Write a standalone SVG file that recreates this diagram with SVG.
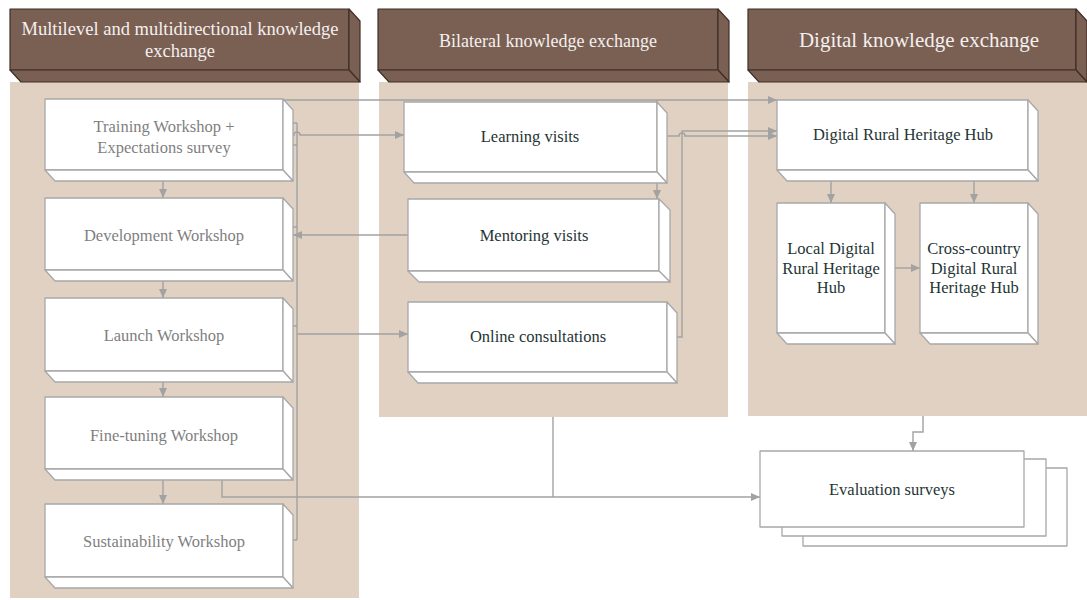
<svg xmlns="http://www.w3.org/2000/svg" width="1087" height="600" viewBox="0 0 1087 600">
<defs>
<style>
.panel{fill:#e0d1c3;stroke:none}
.hdr{fill:#7a5f53;stroke:#3e2f27;stroke-width:1.2;stroke-linejoin:round}
.hdrt{font-family:"Liberation Serif","Times New Roman",serif;fill:#f4f0ee;text-anchor:middle}
.box{fill:#ffffff;stroke:#a8a8a8;stroke-width:1.3;stroke-linejoin:round}
.tg{font-family:"Liberation Serif","Times New Roman",serif;font-size:16.5px;fill:#7f7f7f;text-anchor:middle}
.td{font-family:"Liberation Serif","Times New Roman",serif;font-size:16.5px;fill:#1f3535;text-anchor:middle}
.con{fill:none;stroke:#a2a2a2;stroke-width:1.4}
.arr{marker-end:url(#ah)}
</style>
<marker id="ah" markerWidth="9" markerHeight="8" refX="9" refY="4" orient="auto" markerUnits="userSpaceOnUse">
<path d="M0,0 L9,4 L0,8 z" fill="#a2a2a2"/>
</marker>
</defs>
<rect width="1087" height="600" fill="#ffffff"/>

<g id="panels">
<rect class="panel" x="10" y="82" width="349" height="516"/>
<rect class="panel" x="379" y="82" width="349" height="335"/>
<rect class="panel" x="748" y="82" width="339" height="334"/>
</g>

<g id="header-multilevel">
<rect class="hdr" x="10" y="9" width="339" height="61"/>
<polygon class="hdr" points="349,9 360,21 360,82 349,70"/>
<polygon class="hdr" points="10,70 349,70 360,82 21,82"/>
<text class="hdrt" font-size="18.5" x="180" y="35">Multilevel and multidirectional knowledge</text>
<text class="hdrt" font-size="18.5" x="180" y="57">exchange</text>
</g>
<g id="header-bilateral">
<rect class="hdr" x="378" y="9" width="340" height="61"/>
<polygon class="hdr" points="718,9 729,21 729,82 718,70"/>
<polygon class="hdr" points="378,70 718,70 729,82 389,82"/>
<text class="hdrt" font-size="18" x="548" y="47">Bilateral knowledge exchange</text>
</g>
<g id="header-digital">
<rect class="hdr" x="748" y="9" width="328" height="61"/>
<polygon class="hdr" points="1076,9 1087,21 1087,82 1076,70"/>
<polygon class="hdr" points="748,70 1076,70 1087,82 759,82"/>
<text class="hdrt" font-size="21" x="919" y="47">Digital knowledge exchange</text>
</g>

<g id="connectors">
<path class="con" d="M163,181 V198" marker-end="url(#ah)"/>
<path class="con" d="M163,281 V298" marker-end="url(#ah)"/>
<path class="con" d="M163,382 V397" marker-end="url(#ah)"/>
<path class="con" d="M163,480 V504" marker-end="url(#ah)"/>
<path class="con" d="M293,123 H297 M293,145 H297 M293,227 H297 M293,326 H297 M293,540 H297 M297,123 V540"/>
<path class="con" d="M283,100 H777" marker-end="url(#ah)"/>
<path class="con" d="M293,135 H294 A3,3 0 0 1 300,135 H404" marker-end="url(#ah)"/>
<path class="con" d="M408,235 H293" marker-end="url(#ah)"/>
<path class="con" d="M297,334 H408" marker-end="url(#ah)"/>
<path class="con" d="M657,100 V199" marker-end="url(#ah)"/>
<path class="con" d="M667,136 H679 A3,3 0 0 1 685,136 H777" marker-end="url(#ah)"/>
<path class="con" d="M677,337 H682 V131 H777" marker-end="url(#ah)"/>
<path class="con" d="M831,181 V203" marker-end="url(#ah)"/>
<path class="con" d="M974,181 V203" marker-end="url(#ah)"/>
<path class="con" d="M895,268 H920" marker-end="url(#ah)"/>
<path class="con" d="M923,416 V432 H913 V451" marker-end="url(#ah)"/>
<path class="con" d="M222,480 V497 H760" marker-end="url(#ah)"/>
<path class="con" d="M553,417 V497"/>
</g>

<g id="node-training">
<rect class="box" x="45" y="99" width="238" height="71"/>
<polygon class="box" points="283,99 293,110 293,181 283,170"/>
<polygon class="box" points="45,170 283,170 293,181 55,181"/>
<text class="tg" x="164" y="132">Training Workshop +</text>
<text class="tg" x="164" y="153">Expectations survey</text>
</g>
<g id="node-development">
<rect class="box" x="45" y="198" width="238" height="72"/>
<polygon class="box" points="283,198 293,209 293,281 283,270"/>
<polygon class="box" points="45,270 283,270 293,281 55,281"/>
<text class="tg" x="164" y="241">Development Workshop</text>
</g>
<g id="node-launch">
<rect class="box" x="45" y="298" width="238" height="73"/>
<polygon class="box" points="283,298 293,309 293,382 283,371"/>
<polygon class="box" points="45,371 283,371 293,382 55,382"/>
<text class="tg" x="164" y="341">Launch Workshop</text>
</g>
<g id="node-finetuning">
<rect class="box" x="45" y="397" width="238" height="72"/>
<polygon class="box" points="283,397 293,408 293,480 283,469"/>
<polygon class="box" points="45,469 283,469 293,480 55,480"/>
<text class="tg" x="164" y="441">Fine-tuning Workshop</text>
</g>
<g id="node-sustainability">
<rect class="box" x="45" y="504" width="238" height="73"/>
<polygon class="box" points="283,504 293,515 293,588 283,577"/>
<polygon class="box" points="45,577 283,577 293,588 55,588"/>
<text class="tg" x="164" y="547">Sustainability Workshop</text>
</g>

<g id="node-learning">
<rect class="box" x="404" y="102" width="253" height="70"/>
<polygon class="box" points="657,102 667,113 667,183 657,172"/>
<polygon class="box" points="404,172 657,172 667,183 414,183"/>
<text class="td" x="530" y="142">Learning visits</text>
</g>
<g id="node-mentoring">
<rect class="box" x="408" y="199" width="251" height="72"/>
<polygon class="box" points="659,199 670,210 670,282 659,271"/>
<polygon class="box" points="408,271 659,271 670,282 419,282"/>
<text class="td" x="534" y="241">Mentoring visits</text>
</g>
<g id="node-online">
<rect class="box" x="408" y="302" width="259" height="70"/>
<polygon class="box" points="667,302 677,313 677,383 667,372"/>
<polygon class="box" points="408,372 667,372 677,383 418,383"/>
<text class="td" x="538" y="342">Online consultations</text>
</g>

<g id="node-hub">
<rect class="box" x="777" y="100" width="251" height="70"/>
<polygon class="box" points="1028,100 1038,111 1038,181 1028,170"/>
<polygon class="box" points="777,170 1028,170 1038,181 787,181"/>
<text class="td" x="903" y="140">Digital Rural Heritage Hub</text>
</g>
<g id="node-local-hub">
<rect class="box" x="777" y="203" width="108" height="130"/>
<polygon class="box" points="885,203 895,214 895,344 885,333"/>
<polygon class="box" points="777,333 885,333 895,344 787,344"/>
<text class="td" x="831" y="254">Local Digital</text>
<text class="td" x="831" y="274">Rural Heritage</text>
<text class="td" x="831" y="293">Hub</text>
</g>
<g id="node-cross-hub">
<rect class="box" x="920" y="203" width="108" height="130"/>
<polygon class="box" points="1028,203 1038,214 1038,344 1028,333"/>
<polygon class="box" points="920,333 1028,333 1038,344 930,344"/>
<text class="td" x="974" y="254">Cross-country</text>
<text class="td" x="974" y="274">Digital Rural</text>
<text class="td" x="974" y="293">Heritage Hub</text>
</g>

<g id="node-evaluation">
<rect class="box" x="803" y="468" width="264" height="78"/>
<rect class="box" x="782" y="459" width="264" height="77"/>
<rect class="box" x="760" y="451" width="264" height="76"/>
<text class="td" x="892" y="495">Evaluation surveys</text>
</g>
</svg>
